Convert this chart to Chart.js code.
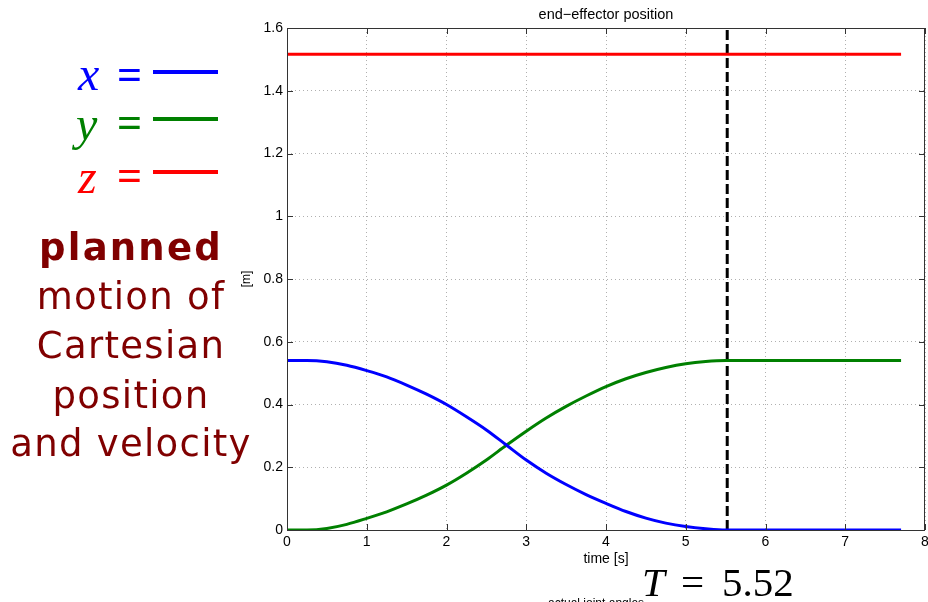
<!DOCTYPE html>
<html>
<head>
<meta charset="utf-8">
<script src="https://cdn.jsdelivr.net/npm/chart.js@4"></script>
<style>
  html, body { margin: 0; padding: 0; background: #fff; }
  #wrap { position: relative; width: 928px; height: 602px; overflow: hidden; }
  #chart { position: absolute; left: 0; top: 0; }
  .t { position: absolute; white-space: nowrap; line-height: 1; }
  .m { font-family: "Liberation Serif", serif; font-style: italic; font-size: 48px; }
  .eq { font-family: "Liberation Serif", serif; font-size: 44px; font-weight: bold; }
  .bar { position: absolute; height: 4px; width: 65px; }
  .big { font-family: "DejaVu Sans", sans-serif; font-size: 37px; color: #800000; width: 262px; text-align: center; left: 0; letter-spacing: 1.3px; }
  .mt { font-family: "Liberation Serif", serif; font-size: 41px; color: #000; }
</style>
</head>
<body>
<div id="wrap">
  <canvas id="chart" width="928" height="602"></canvas>

  <div class="t m" style="left:78px; top:50px; color:#0000ff;">x</div>
  <div class="t eq" style="left:117px; top:53px; color:#0000ff;">=</div>
  <div class="bar" style="left:153px; top:70px; background:#0000ff;"></div>

  <div class="t m" style="left:76px; top:100px; color:#008000;">y</div>
  <div class="t eq" style="left:117px; top:101px; color:#008000;">=</div>
  <div class="bar" style="left:153px; top:117px; background:#008000;"></div>

  <div class="t m" style="left:78px; top:153px; color:#ff0000;">z</div>
  <div class="t eq" style="left:117px; top:154px; color:#ff0000;">=</div>
  <div class="bar" style="left:153px; top:170px; background:#ff0000;"></div>

  <div class="t big" style="top:229px; font-weight:bold; letter-spacing:2.2px;">planned</div>
  <div class="t big" style="top:278px;">motion of</div>
  <div class="t big" style="top:327px;">Cartesian</div>
  <div class="t big" style="top:377px;">position</div>
  <div class="t big" style="top:425px;">and velocity</div>

  <div class="t mt" style="left:642px; top:562px;"><i>T</i></div>
  <div class="t mt" style="left:681px; top:562px;">=</div>
  <div class="t mt" style="left:722px; top:562px;">5.52</div>
  <div class="t" style="left:548px; top:597px; font-family:'Liberation Sans',sans-serif; font-size:12px; color:#000;">actual joint angles</div>
</div>

<script>
// time samples [s]
const times = [0, 0.25, 0.5, 0.75, 1, 1.25, 1.5, 1.75, 2, 2.25, 2.5, 2.75, 3, 3.25, 3.5, 3.75,
               4, 4.25, 4.5, 4.75, 5, 5.25, 5.5, 5.75, 6, 6.25, 6.5, 6.75, 7, 7.25, 7.5, 7.7];

// end-effector position [m]
const xPos = [0.540, 0.540, 0.536, 0.525, 0.508, 0.488, 0.462, 0.433, 0.400, 0.361, 0.319, 0.271,
              0.223, 0.181, 0.145, 0.113, 0.085, 0.059, 0.038, 0.022, 0.011, 0.004, 0.000, 0,
              0, 0, 0, 0, 0, 0, 0, 0];
const yPos = [0.000, 0.000, 0.005, 0.018, 0.037, 0.058, 0.083, 0.111, 0.143, 0.181, 0.223, 0.270,
              0.315, 0.357, 0.394, 0.427, 0.457, 0.482, 0.502, 0.518, 0.530, 0.537, 0.540, 0.540,
              0.540, 0.540, 0.540, 0.540, 0.540, 0.540, 0.540, 0.540];
const zPos = [1.516, 1.516, 1.516, 1.516, 1.516, 1.516, 1.516, 1.516, 1.516, 1.516, 1.516, 1.516,
              1.516, 1.516, 1.516, 1.516, 1.516, 1.516, 1.516, 1.516, 1.516, 1.516, 1.516, 1.516,
              1.516, 1.516, 1.516, 1.516, 1.516, 1.516, 1.516, 1.516];

const finalTime = 5.52;
const xTicks = [0, 1, 2, 3, 4, 5, 6, 7, 8];
const yTicks = [0, 0.2, 0.4, 0.6, 0.8, 1, 1.2, 1.4, 1.6];

const pts = arr => times.map((t, i) => ({ x: t, y: arr[i] }));
const noPad = s => { s.paddingLeft = 0; s.paddingRight = 0; s.paddingTop = 0; s.paddingBottom = 0; };

// matlab-style box, inward ticks and title
const matlabBox = {
    id: 'matlabBox',
    afterDraw(chart) {
        const ctx = chart.ctx;
        const a = chart.chartArea;
        const xs = chart.scales.x, ys = chart.scales.y;
        ctx.save();
        ctx.strokeStyle = '#333';
        ctx.lineWidth = 1;
        ctx.setLineDash([]);
        ctx.strokeRect(a.left + 0.5, a.top + 0.5, a.right - a.left - 1, a.bottom - a.top);
        ctx.beginPath();
        xTicks.forEach(v => {
            const px = Math.round(xs.getPixelForValue(v)) + 0.5;
            ctx.moveTo(px, a.bottom); ctx.lineTo(px, a.bottom - 6);
            ctx.moveTo(px, a.top); ctx.lineTo(px, a.top + 6);
        });
        yTicks.forEach(v => {
            const py = Math.round(ys.getPixelForValue(v)) + 0.5;
            ctx.moveTo(a.left, py); ctx.lineTo(a.left + 6, py);
            ctx.moveTo(a.right, py); ctx.lineTo(a.right - 6, py);
        });
        ctx.stroke();
        ctx.fillStyle = '#000';
        ctx.font = '14.5px "Liberation Sans", Arial, sans-serif';
        ctx.textAlign = 'center';
        ctx.textBaseline = 'middle';
        ctx.fillText('end\u2212effector position', (a.left + a.right) / 2, 15);
        ctx.restore();
    }
};

new Chart(document.getElementById('chart'), {
    type: 'line',
    data: {
        datasets: [
            { label: 'x', data: pts(xPos), borderColor: '#0000ff', borderWidth: 3, pointRadius: 0, cubicInterpolationMode: 'monotone' },
            { label: 'y', data: pts(yPos), borderColor: '#008000', borderWidth: 3, pointRadius: 0, cubicInterpolationMode: 'monotone' },
            { label: 'z', data: pts(zPos), borderColor: '#ff0000', borderWidth: 3, pointRadius: 0 },
            {
                label: 'T',
                data: [{ x: finalTime, y: 0 }, { x: finalTime, y: 1.6 }],
                borderColor: '#000', borderWidth: 3, borderDash: [10, 4], pointRadius: 0
            }
        ]
    },
    options: {
        responsive: false,
        animation: false,
        layout: { padding: { left: 235, top: 28, right: 3, bottom: 30 }, autoPadding: false },
        plugins: { legend: { display: false }, tooltip: { enabled: false }, title: { display: false } },
        scales: {
            x: {
                type: 'linear', min: 0, max: 8,
                afterBuildTicks: s => { s.ticks = xTicks.map(v => ({ value: v })); },
                afterFit: s => { s.height = 42; noPad(s); },
                ticks: { color: '#000', padding: 4, font: { family: '"Liberation Sans", Arial', size: 14 }, callback: v => String(v) },
                grid: { color: '#b0b0b0', lineWidth: 1, drawTicks: false },
                border: { display: false, dash: [1, 3] },
                title: { display: true, text: 'time [s]', color: '#000', padding: { top: 0, bottom: 4 }, font: { family: '"Liberation Sans", Arial', size: 14 } }
            },
            y: {
                type: 'linear', min: 0, max: 1.6,
                afterBuildTicks: s => { s.ticks = yTicks.map(v => ({ value: v })); },
                afterFit: s => { s.width = 52; noPad(s); },
                ticks: { color: '#000', padding: 4, font: { family: '"Liberation Sans", Arial', size: 14 }, callback: v => String(+v.toFixed(1)) },
                grid: { color: '#b0b0b0', lineWidth: 1, drawTicks: false },
                border: { display: false, dash: [1, 3] },
                title: { display: true, text: '[m]', color: '#000', padding: { top: 4, bottom: 0 }, font: { family: '"Liberation Sans", Arial', size: 12 } }
            }
        }
    },
    plugins: [matlabBox]
});
</script>
</body>
</html>
